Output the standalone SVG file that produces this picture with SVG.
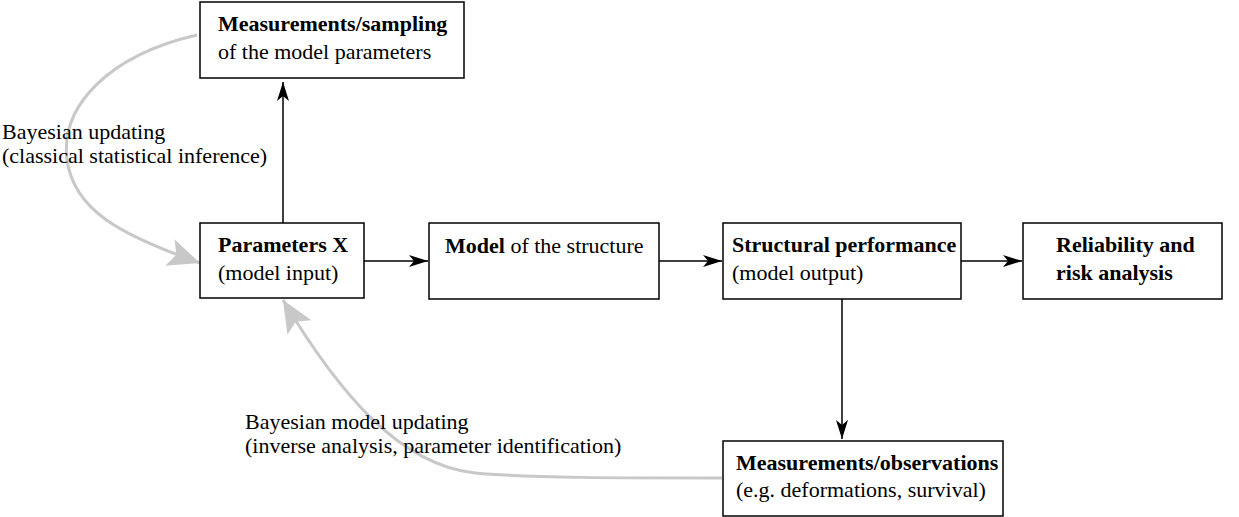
<svg xmlns="http://www.w3.org/2000/svg" width="1239" height="517" viewBox="0 0 1239 517">
<style>
text{font-family:"Liberation Serif","Times New Roman",serif;font-size:22px;fill:#000}
.b{font-weight:bold}
.box{fill:#fff;stroke:#000;stroke-width:1.5}
.c{fill:none;stroke:#000;stroke-width:1.5}
.g{fill:none;stroke:#c8c8c8;stroke-width:3}
</style>
<defs>
<marker id="ab" markerUnits="userSpaceOnUse" markerWidth="22" markerHeight="14" viewBox="-20 -7 22 14" refX="0" refY="0" orient="auto">
<path d="M0,0 L-19,-6 L-14,0 L-19,6 z" fill="#000"/>
</marker>
<marker id="ag" markerUnits="userSpaceOnUse" markerWidth="36" markerHeight="34" viewBox="-34 -17 36 34" refX="0" refY="0" orient="auto">
<path d="M0,0 L-32,-14 L-25,0 L-32,14 z" fill="#c8c8c8"/>
</marker>
</defs>
<g id="connectors">
<path class="g" d="M197,35 C110,55 60,105 67,160 C74,210 120,235 200,263" marker-end="url(#ag)"/>
<path class="g" d="M722,478 C620,478 530,478 475,473 C400,465 340,395 283,300" marker-end="url(#ag)"/>
<line class="c" x1="283" y1="223" x2="283" y2="82" marker-end="url(#ab)"/>
<line class="c" x1="364" y1="261" x2="428" y2="261" marker-end="url(#ab)"/>
<line class="c" x1="659" y1="261" x2="722" y2="261" marker-end="url(#ab)"/>
<line class="c" x1="961" y1="261" x2="1022" y2="261" marker-end="url(#ab)"/>
<line class="c" x1="842" y1="299" x2="842" y2="439" marker-end="url(#ab)"/>
</g>
<g id="n-sampling">
<rect class="box" x="200" y="2" width="264" height="76"/>
<text x="218" y="31" class="b">Measurements/sampling</text>
<text x="218" y="59">of the model parameters</text>
</g>
<g id="n-params">
<rect class="box" x="200" y="223" width="164" height="75"/>
<text x="218" y="252" class="b">Parameters X</text>
<text x="218" y="280">(model input)</text>
</g>
<g id="n-model">
<rect class="box" x="429" y="223" width="230" height="76"/>
<text x="445" y="253"><tspan class="b">Model</tspan> of the structure</text>
</g>
<g id="n-perf">
<rect class="box" x="723" y="223" width="238" height="76"/>
<text x="732" y="252" class="b">Structural performance</text>
<text x="732" y="280">(model output)</text>
</g>
<g id="n-rel">
<rect class="box" x="1023" y="223" width="199" height="76"/>
<text x="1056" y="252" class="b">Reliability and</text>
<text x="1056" y="280" class="b">risk analysis</text>
</g>
<g id="n-obs">
<rect class="box" x="723" y="441" width="280" height="75"/>
<text x="736" y="470" class="b">Measurements/observations</text>
<text x="736" y="497">(e.g. deformations, survival)</text>
</g>
<g id="labels">
<text x="2" y="139">Bayesian updating</text>
<text x="2" y="163">(classical statistical inference)</text>
<text x="245" y="429">Bayesian model updating</text>
<text x="245" y="453">(inverse analysis, parameter identification)</text>
</g>
</svg>
